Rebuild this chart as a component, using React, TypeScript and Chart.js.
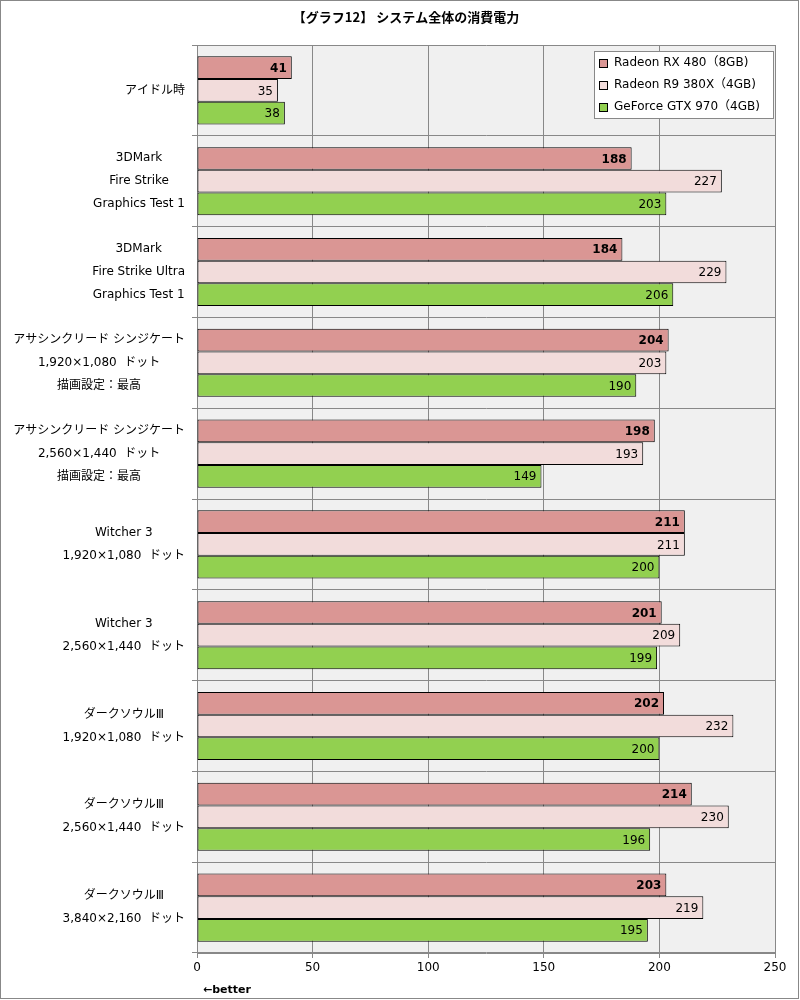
import React, { useEffect, useRef } from "react";
import { Chart, registerables } from "chart.js";

Chart.register(...registerables);

const TITLE = "【グラフ12】 システム全体の消費電力";

const CATEGORIES: string[][] = [
  ["アイドル時"],
  ["3DMark", "Fire Strike", "Graphics Test 1"],
  ["3DMark", "Fire Strike Ultra", "Graphics Test 1"],
  ["アサシンクリード シンジケート", "1,920×1,080  ドット", "描画設定：最高"],
  ["アサシンクリード シンジケート", "2,560×1,440  ドット", "描画設定：最高"],
  ["Witcher 3", "1,920×1,080  ドット"],
  ["Witcher 3", "2,560×1,440  ドット"],
  ["ダークソウルⅢ", "1,920×1,080  ドット"],
  ["ダークソウルⅢ", "2,560×1,440  ドット"],
  ["ダークソウルⅢ", "3,840×2,160  ドット"],
];

const SERIES_NAMES = ["Radeon RX 480（8GB)", "Radeon R9 380X（4GB)", "GeForce GTX 970（4GB)"];
const RX480 = [41, 188, 184, 204, 198, 211, 201, 202, 214, 203];
const R9_380X = [35, 227, 229, 203, 193, 211, 209, 232, 230, 219];
const GTX970 = [38, 203, 206, 190, 149, 200, 199, 200, 196, 195];
const COLORS = ["#da9694", "#f2dcdb", "#92d050"];

const X_MIN = 0;
const X_MAX = 250;
const X_STEP = 50;

const FONT = '"DejaVu Sans", "Noto Sans CJK JP", sans-serif';
const CJK = '"Noto Sans CJK JP", "DejaVu Sans", sans-serif';

export default function App() {
  const ref = useRef<HTMLCanvasElement | null>(null);

  useEffect(() => {
    document.body.style.margin = "0";
    const canvas = ref.current!;
    const decor = {
      id: "decor",
      beforeDraw(chart: any) {
        const { ctx, chartArea: a } = chart;
        ctx.save();
        ctx.fillStyle = "#ffffff";
        ctx.fillRect(0, 0, chart.width, chart.height);
        ctx.fillStyle = "#f0f0f0";
        ctx.fillRect(a.left, a.top, a.right - a.left, a.bottom - a.top);
        ctx.restore();
      },
      afterDatasetsDraw(chart: any) {
        const { ctx } = chart;
        ctx.save();
        ctx.textAlign = "right";
        ctx.textBaseline = "middle";
        ctx.fillStyle = "#000";
        chart.data.datasets.forEach((ds: any, di: number) => {
          const meta = chart.getDatasetMeta(di);
          meta.data.forEach((el: any, i: number) => {
            ctx.font = (di === 0 ? "bold " : "") + "12px " + FONT;
            ctx.fillText(String(ds.data[i]), el.x - 5, el.y + 1);
          });
        });
        ctx.restore();
      },
      afterDraw(chart: any) {
        const { ctx } = chart;
        const y = chart.scales.y;
        ctx.save();
        // category labels
        ctx.font = "12px " + FONT;
        ctx.fillStyle = "#000";
        ctx.textBaseline = "middle";
        ctx.textAlign = "center";
        CATEGORIES.forEach((lines, i) => {
          const cy = y.getPixelForValue(i);
          const maxW = Math.max(...lines.map((l) => ctx.measureText(l).width));
          const cx = 185 - maxW / 2;
          const n = lines.length;
          lines.forEach((l, k) => {
            ctx.fillText(l, cx, cy + (k - (n - 1) / 2) * 23);
          });
        });
        // title
        ctx.font = "bold 13px " + CJK;
        ctx.textAlign = "center";
        ctx.fillText(TITLE, 406, 17);
        // better
        ctx.font = "bold 11px " + FONT;
        ctx.textAlign = "left";
        ctx.fillText("←better", 203, 990);
        // legend
        const lx = 594, ly = 51, lw = 179, lh = 67;
        ctx.fillStyle = "#ffffff";
        ctx.fillRect(lx, ly, lw, lh);
        ctx.strokeStyle = "#888";
        ctx.lineWidth = 1;
        ctx.strokeRect(lx + 0.5, ly + 0.5, lw, lh);
        SERIES_NAMES.forEach((name, i) => {
          const iy = 63 + i * 22;
          ctx.fillStyle = COLORS[i];
          ctx.fillRect(599, iy - 4, 9, 9);
          ctx.strokeStyle = "#000";
          ctx.strokeRect(599.5, iy - 3.5, 8, 8);
          ctx.fillStyle = "#000";
          ctx.font = "12px " + FONT;
          ctx.fillText(name, 614, iy);
        });
        // outer border
        ctx.strokeStyle = "#888";
        ctx.lineWidth = 1;
        ctx.strokeRect(0.5, 0.5, 798, 998);
        ctx.restore();
      },
    };

    const chart = new Chart(canvas, {
      type: "bar",
      data: {
        labels: CATEGORIES.map((c) => c.join(" ")),
        datasets: [RX480, R9_380X, GTX970].map((d, i) => ({
          label: SERIES_NAMES[i],
          data: d,
          backgroundColor: COLORS[i],
          borderColor: "#000",
          borderWidth: 1,
          borderSkipped: false,
          categoryPercentage: 0.75,
          barPercentage: 1,
        })),
      },
      options: {
        indexAxis: "y",
        responsive: false,
        animation: false,
        layout: { padding: { top: 45, right: 25, left: 0, bottom: 0 } },
        plugins: {
          legend: { display: false },
          title: { display: false },
          tooltip: { enabled: false },
        },
        scales: {
          x: {
            min: X_MIN,
            max: X_MAX,
            ticks: { stepSize: X_STEP, color: "#000", font: { size: 12, family: FONT }, padding: 3 },
            grid: { color: "#888", tickLength: 5 },
            border: { color: "#888" },
            afterFit(s: any) {
              s.height = 47;
            },
          },
          y: {
            ticks: { display: false },
            grid: { color: "#888", tickLength: 5, offset: true },
            border: { color: "#888" },
            afterFit(s: any) {
              s.width = 197;
            },
          },
        },
      },
      plugins: [decor],
    } as any);
    return () => chart.destroy();
  }, []);

  return <canvas ref={ref} width={800} height={1000} style={{ display: "block" }} />;
}
